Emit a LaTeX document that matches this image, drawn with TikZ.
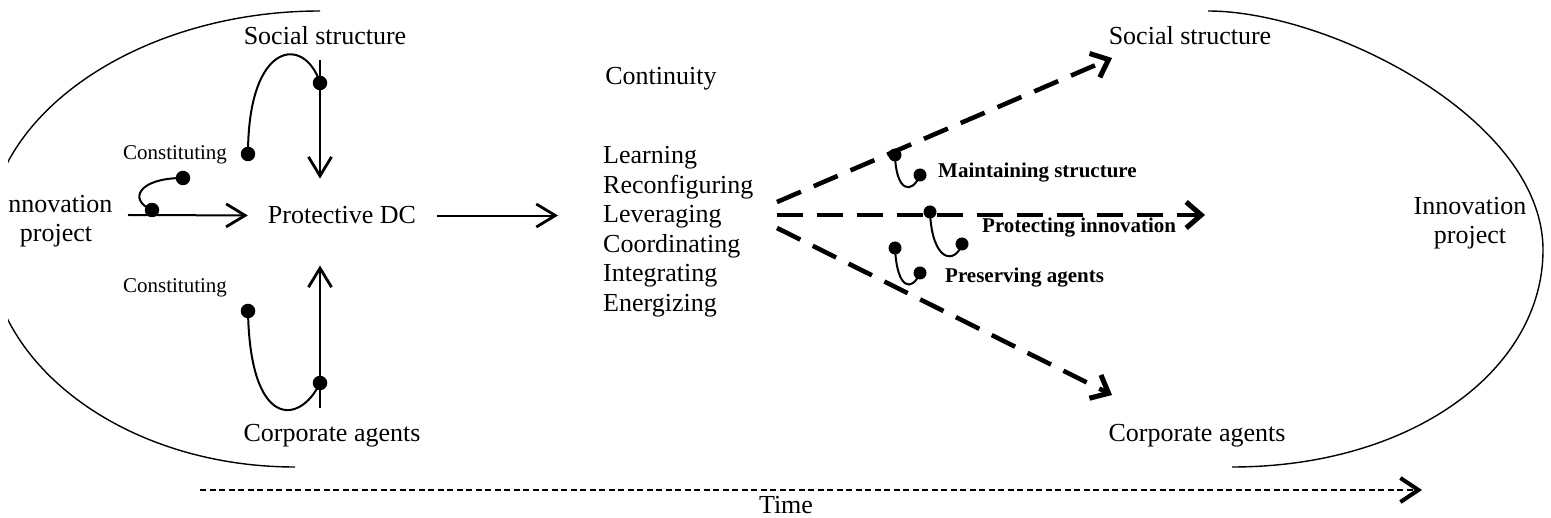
\documentclass[tikz,border=0pt]{standalone}
\usepackage{fontspec}
\setmainfont{Liberation Serif}
\usetikzlibrary{arrows.meta}
\begin{document}
\begin{tikzpicture}[x=1pt,y=-1pt,
  txt/.style={inner sep=0pt, font=\fontsize{26}{29}\selectfont},
  small/.style={inner sep=0pt, font=\fontsize{21}{25}\selectfont},
  lbl/.style={inner sep=0pt, font=\fontsize{21}{25}\selectfont\bfseries},
  dot/.style={circle, fill=black, inner sep=0pt, minimum size=14.5pt},
  sdot/.style={circle, fill=black, inner sep=0pt, minimum size=13pt},
  hook/.style={line width=2pt},
  boundary/.style={line width=1.4pt},
  flow/.style={line width=2pt, -{Straight Barb[length=19pt,width=23pt,line width=2.8pt]}},
  fan/.style={line width=4.5pt, dash pattern=on 26pt off 14pt, -{Straight Barb[length=15pt,width=26pt,line width=5pt]}},
  fanshadow/.style={fan, draw=black!18, shift={(2pt,-3pt)}},
  timeline/.style={line width=2pt, dash pattern=on 6pt off 3.5pt, -{Straight Barb[length=18pt,width=24pt,line width=4pt]}},
]
\useasboundingbox (0,0) rectangle (1551,518);
% the drawing area is cut a few points in from the left edge
\clip (8,0) rectangle (1551,518);

% outer boundaries of the two innovation projects
\draw[boundary] (320,11) .. controls (141,11) and (-12,113) .. (-12,239)
                .. controls (-12,365) and (126,467) .. (295,467);
\draw[boundary] (1208,11) .. controls (1328,11) and (1543,118) .. (1543,250)
                .. controls (1543,370) and (1412,467) .. (1232,467);

% text nodes, left part
\node[txt, anchor=base] (ssL) at (325,45) {Social structure};
\node[txt, anchor=base] (caL) at (332,442) {Corporate agents};
\node[txt, anchor=base] (pdc) at (342,224) {Protective DC};
\node[txt, align=center] (ipL) at (56,221) {Innovation\\project};
\node[small, anchor=base] (c1) at (175,160) {Constituting};
\node[small, anchor=base] (c2) at (175,293) {Constituting};

% centre column
\node[txt, anchor=base] (cont) at (661,85) {Continuity};
\node[txt, anchor=base west] (l1) at (603,164) {Learning};
\node[txt, anchor=base west] (l2) at (603,193.5) {Reconfiguring};
\node[txt, anchor=base west] (l3) at (603,223) {Leveraging};
\node[txt, anchor=base west] (l4) at (603,252.5) {Coordinating};
\node[txt, anchor=base west] (l5) at (603,282) {Integrating};
\node[txt, anchor=base west] (l6) at (603,311.5) {Energizing};

% dashed fan towards the continued project (soft shadow first)
\coordinate (fanUp) at (777,202);
\coordinate (fanMid) at (777,215);
\coordinate (fanLow) at (777,228);
\coordinate (ssRin) at (1112,58);
\coordinate (ipRin) at (1205,215);
\coordinate (caRin) at (1112,395);
\draw[fanshadow] (fanUp) -- (ssRin);
\draw[fanshadow] (fanMid) -- (ipRin);
\draw[fanshadow] (fanLow) -- (caRin);
\draw[fan] (fanUp) -- (ssRin);
\draw[fan] (fanMid) -- (ipRin);
\draw[fan] (fanLow) -- (caRin);

% right part
\node[txt, anchor=base] (ssR) at (1190,45) {Social structure};
\node[txt, anchor=base] (caR) at (1197,442) {Corporate agents};
\node[txt, align=center] (ipR) at (1470,223) {Innovation\\project};
\node[lbl, anchor=base west] (m1) at (938,178) {Maintaining structure};
\node[lbl, anchor=base west] (m2) at (982,233) {Protecting innovation};
\node[lbl, anchor=base west] (m3) at (945,283) {Preserving agents};

% time axis
\node[txt, anchor=base] (time) at (786,514) {Time};

% dots
\node[dot] (dA) at (320,83) {};
\node[dot] (dB) at (248,154) {};
\node[dot] (dC) at (152,210) {};
\node[dot] (dD) at (183,178) {};
\node[dot] (dE) at (248,311) {};
\node[dot] (dF) at (320,383) {};
\node[sdot] (dG) at (895,155) {};
\node[sdot] (dH) at (920,175) {};
\node[sdot] (dI) at (930,212) {};
\node[sdot] (dJ) at (962,244) {};
\node[sdot] (dK) at (895,248) {};
\node[sdot] (dL) at (920,273) {};

% constituting / maintaining hooks
\draw[hook] (dA.center) .. controls (305,35) and (248,40) .. (dB.center);
\draw[hook] (dC.center) .. controls (128,200) and (138,178) .. (dD.center);
\draw[hook] (dE.center) .. controls (250,430) and (300,425) .. (dF.center);
\draw[hook] (dG.center) .. controls (896,192) and (912,195) .. (dH.center);
\draw[hook] (dI.center) .. controls (932,262) and (955,265) .. (dJ.center);
\draw[hook] (dK.center) .. controls (897,290) and (912,292) .. (dL.center);

% solid arrows
\coordinate (ipLexit) at (128,215);
\draw[flow, shorten >=20pt] (ipLexit) -- (pdc.west);
\draw[flow, shorten <=15pt, shorten >=28pt] (ssL.south -| dA) -- (pdc.north -| dA);
\draw[flow, shorten <=17pt, shorten >=41pt] (caL.north -| dF) -- (pdc.south -| dF);
\draw[flow, shorten <=21pt, shorten >=45pt] (pdc.east) -- (pdc.east -| l3.west);

% time line
\coordinate (tStart) at (200,490);
\coordinate (tEnd) at (1422,490);
\draw[timeline] (tStart) -- (tEnd);
\end{tikzpicture}
\end{document}
